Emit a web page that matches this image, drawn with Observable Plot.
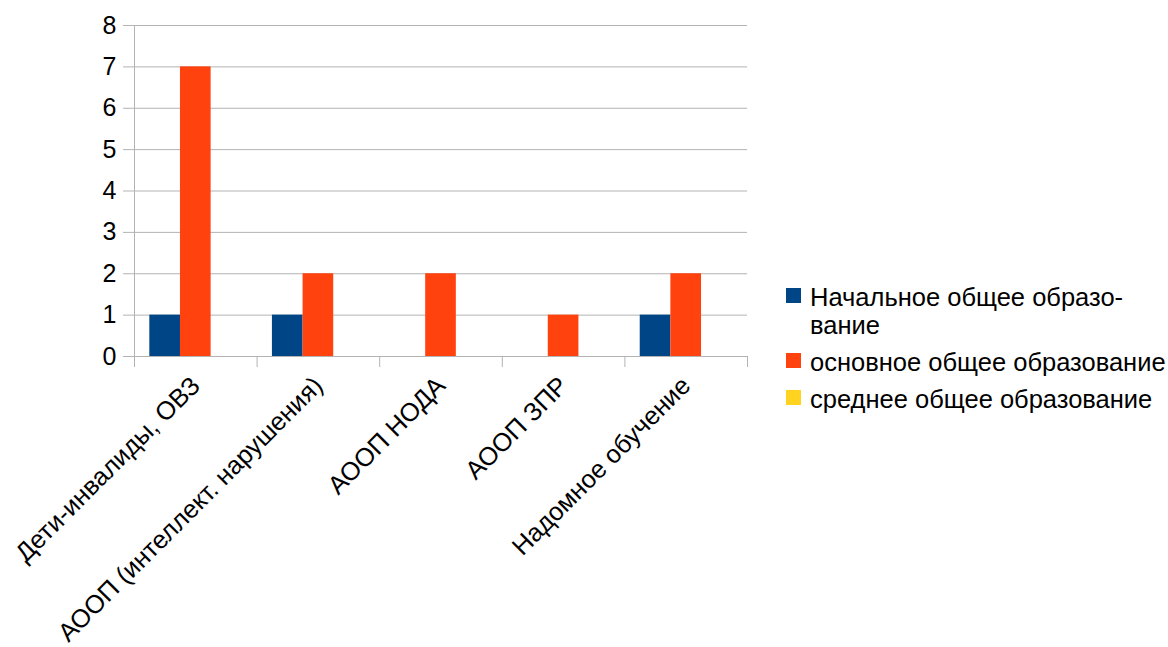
<!DOCTYPE html>
<html>
<head>
<meta charset="utf-8">
<script src="https://cdn.jsdelivr.net/npm/d3@7"></script>
<script src="https://cdn.jsdelivr.net/npm/@observablehq/plot@0.6"></script>
<style>
  body { margin: 0; background: #fff; font-family: "Liberation Sans", Arial, sans-serif; }
  #wrap { position: relative; width: 1168px; height: 647px; overflow: hidden; }
  #legend { position: absolute; left: 786px; top: 283px; font-size: 25.5px; line-height: 28px; color: #000; }
  .item { display: flex; align-items: flex-start; margin-bottom: 9px; }
  .sw { width: 15px; height: 15px; margin-top: 5px; margin-right: 9px; flex: none; }
  .lab { white-space: nowrap; }
</style>
</head>
<body>
<div id="wrap"><div id="chart"></div><div id="legend"></div></div>
<script>
const categories = ["Дети-инвалиды, ОВЗ", "АООП (интеллект. нарушения)", "АООП НОДА", "АООП ЗПР", "Надомное обучение"];
const seriesNames = ["Начальное общее образование", "основное общее образование", "среднее общее образование"];
const legendLabels = ["Начальное общее образо-<br>вание", "основное общее образование", "среднее общее образование"];
const primaryValues = [1, 1, 0, 0, 1];
const basicValues = [7, 2, 2, 1, 2];
const secondaryValues = [0, 0, 0, 0, 0];
const seriesColors = ["#004586", "#ff420e", "#ffd320"];
const yTicks = [0, 1, 2, 3, 4, 5, 6, 7, 8];

const valuesBySeries = [primaryValues, basicValues, secondaryValues];
const nS = seriesNames.length;
const rows = categories.flatMap((c, ci) =>
  seriesNames.map((s, si) => ({ci, si, category: c, series: s, value: valuesBySeries[si][ci]})));
const boundaries = d3.range(categories.length + 1);
const centers = categories.map((c, i) => i + 0.5);

const chart = Plot.plot({
  width: 1168, height: 647,
  marginLeft: 134, marginRight: 421, marginTop: 25, marginBottom: 291,
  style: {fontFamily: '"Liberation Sans", Arial, sans-serif', fontSize: "25px", color: "#000", background: "#fff"},
  x: {domain: [0, categories.length]},
  y: {domain: [0, 8]},
  color: {domain: seriesNames, range: seriesColors},
  marks: [
    Plot.ruleY(yTicks, {stroke: "#b3b3b3"}),
    Plot.ruleX([0], {y1: 0, y2: 8, stroke: "#b3b3b3"}),
    Plot.ruleX(boundaries, {y1: 0, y2: 0, insetBottom: -11, stroke: "#b3b3b3"}),
    Plot.rect(rows, {
      x1: d => d.ci + (d.si + 0.5) / (nS + 1),
      x2: d => d.ci + (d.si + 1.5) / (nS + 1),
      y1: 0, y2: "value", fill: "series"
    }),
    Plot.axisY({ticks: yTicks, tickSize: 11, tickPadding: 7, stroke: "#b3b3b3", fill: "#000", fontSize: 25, label: null, tickFormat: d => d}),
    Plot.axisX({ticks: centers, tickFormat: v => categories[Math.floor(v)], tickRotate: -45, tickSize: 0, tickPadding: 25, fontSize: 25.5, label: null, fill: "#000"})
  ]
});
document.getElementById("chart").appendChild(chart);

const legend = document.getElementById("legend");
seriesNames.forEach((s, i) => {
  const item = document.createElement("div");
  item.className = "item";
  item.innerHTML = `<div class="sw" style="background:${seriesColors[i]}"></div><div class="lab">${legendLabels[i]}</div>`;
  legend.appendChild(item);
});
</script>
</body>
</html>
